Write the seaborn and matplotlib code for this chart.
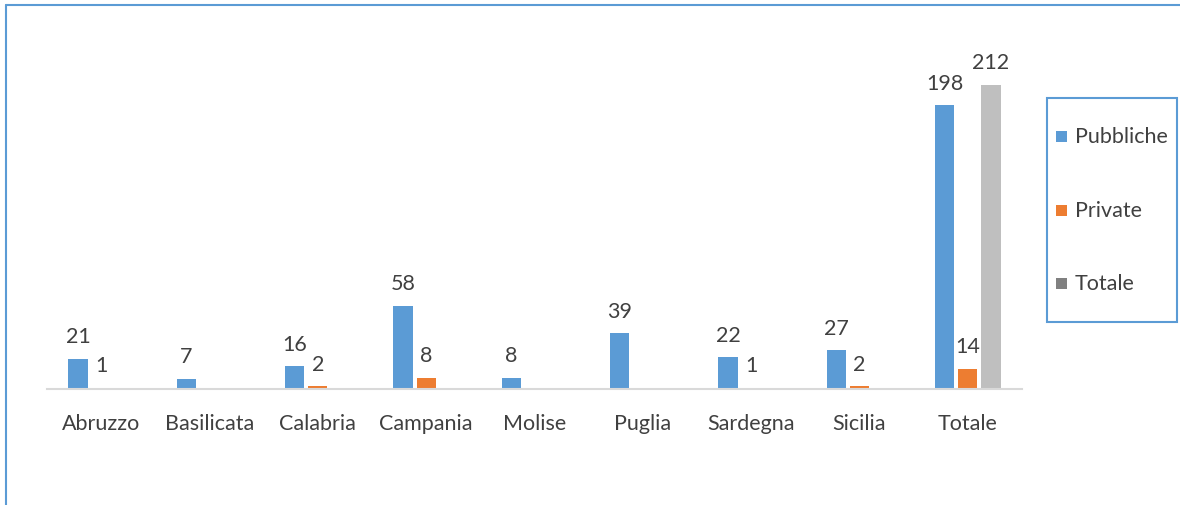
import seaborn as sns
import pandas as pd
import numpy as np
import matplotlib.pyplot as plt
from matplotlib.lines import Line2D
from matplotlib.patches import Rectangle

# Data
regions = ['Abruzzo', 'Basilicata', 'Calabria', 'Campania', 'Molise',
           'Puglia', 'Sardegna', 'Sicilia', 'Totale']
pubbliche = [21, 7, 16, 58, 8, 39, 22, 27, 198]
private = [1, np.nan, 2, 8, np.nan, np.nan, 1, 2, 14]
totale = [np.nan] * 8 + [212]
series = ['Pubbliche', 'Private', 'Totale']

df = pd.DataFrame({
    'Regione': regions * 3,
    'Serie': np.repeat(series, len(regions)),
    'Valore': pubbliche + private + totale,
})

sns.set_style("white")
plt.rcParams['font.family'] = ['Lato', 'DejaVu Sans']
text_col = '#404040'
frame_col = '#5B9BD5'
colors = {'Pubbliche': '#5B9BD5', 'Private': '#ED7D31', 'Totale': '#BFBFBF'}
fs = 15.5

fig = plt.figure(figsize=(11.8, 5.06), dpi=100)
ax = fig.add_axes([47 / 1180, 116 / 506, 975 / 1180, 358.5 / 506])

sns.barplot(data=df, x='Regione', y='Valore', hue='Serie', order=regions,
            hue_order=series, palette=colors, width=0.64, gap=0.17,
            saturation=1, linewidth=0, legend=False, ax=ax)

ax.set_ylim(0, 250)
ax.set_xlim(-0.5, len(regions) - 0.5)
ax.set_xlabel('')
ax.set_ylabel('')
ax.set_yticks([])
for s in ['top', 'right', 'left']:
    ax.spines[s].set_visible(False)
ax.spines['bottom'].set_color('#D9D9D9')
ax.spines['bottom'].set_linewidth(1.5)
ax.tick_params(axis='x', length=0, pad=17, labelsize=fs, labelcolor=text_col)

# value labels
for cont in ax.containers:
    for bar in cont:
        h = bar.get_height()
        if np.isnan(h) or h == 0:
            continue
        ax.annotate(f'{int(h)}', (bar.get_x() + bar.get_width() / 2, h),
                    xytext=(0, 9), textcoords='offset points',
                    ha='center', va='bottom', fontsize=fs, color=text_col)

# legend box (gray swatch darker than the bars, as in the original)
W, H = 1180, 506
fig.add_artist(Rectangle((1047 / W, 1 - 323 / H), 130 / W, 224 / H,
                         transform=fig.transFigure, fill=False,
                         edgecolor=frame_col, lw=1.5))
swatches = ['#5B9BD5', '#ED7D31', '#808080']
for name, col, y in zip(series, swatches, [137, 211, 284]):
    fig.add_artist(Rectangle((1056 / W, 1 - (y + 5.5) / H), 11 / W, 11 / H,
                             transform=fig.transFigure, color=col, lw=0))
    fig.text(1075 / W, 1 - y / H, name, fontsize=fs, color=text_col,
             va='center', ha='left')

# outer chart frame (cropped at right and bottom)
fig.add_artist(Line2D([6 / W, 6 / W], [0, 1 - 6 / H],
                      color=frame_col, lw=1.5, transform=fig.transFigure))
fig.add_artist(Line2D([6 / W, 1], [1 - 6 / H, 1 - 6 / H],
                      color=frame_col, lw=1.5, transform=fig.transFigure))

plt.savefig('out.png', dpi=100)
plt.close()
